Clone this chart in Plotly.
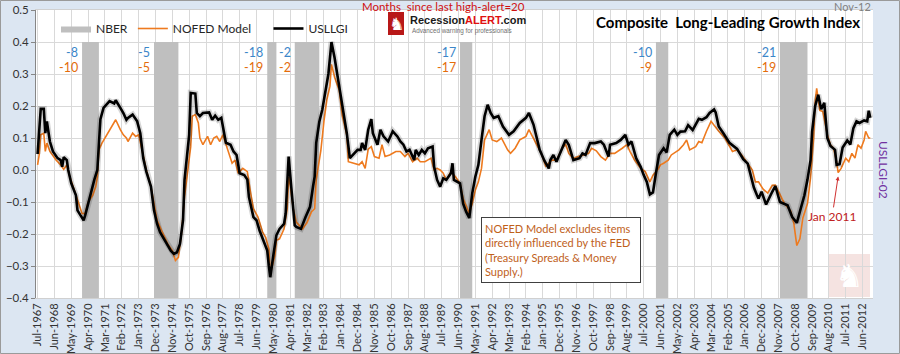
import pandas as pd
import plotly.graph_objects as go

# ---------------- data ----------------
# x positions are months counted from Jul-1967 (month 0) on the monthly category axis
START = "1967-07-01"

usllgi_m = [0, 1, 2, 4, 5, 6, 8, 10, 13, 15, 16, 17, 19, 20, 22, 25, 26, 28, 30, 31, 33, 35, 37, 39,
            40, 41, 43, 45, 47, 50, 51, 54, 56, 58, 59, 62, 65, 67, 69, 71, 74, 76, 78, 80, 82, 85, 87,
            89, 91, 93, 95, 96, 98, 99, 100, 103, 104, 106, 108, 112, 114, 116, 118, 120, 123, 126,
            128, 130, 132, 135, 137, 138, 141, 143, 145, 148, 150, 151, 152, 154, 156, 158, 161, 162,
            163, 164, 166, 168, 169, 172, 175, 178, 180, 181, 182, 184, 186, 188, 189, 190, 191, 192,
            194, 197, 199, 202, 204, 206, 209, 211, 212, 214, 216, 218, 219, 222, 224, 226, 229, 232,
            235, 237, 239, 241, 243, 246, 247, 249, 251, 253, 255, 258, 259, 261, 263, 265, 267, 270,
            271, 272, 274, 276, 278, 280, 282, 284, 286, 288, 290, 292, 294, 296, 298, 301, 304, 308,
            311, 315, 319, 321, 324, 326, 328, 331, 333, 334, 335, 337, 339, 343, 345, 347, 348, 350,
            354, 356, 358, 361, 364, 368, 370, 373, 374, 378, 381, 384, 386, 388, 391, 394, 396, 398,
            400, 402, 404, 406, 409, 411, 413, 416, 418, 420, 423, 425, 428, 430, 432, 434, 437, 439,
            442, 443, 445, 448, 452, 457, 461, 464, 466, 468, 470, 471, 473, 476, 480, 482, 485, 490,
            493, 496, 498, 501, 503, 505, 506, 508, 510, 512, 514, 516, 518, 521, 522, 524, 526, 529,
            531, 533, 535, 537, 540, 542, 543, 544]
usllgi_v = [0.050, 0.126, 0.191, 0.191, 0.115, 0.152, 0.089, 0.058, 0.037, 0.031, 0.010, 0.040, 0.031,
            0.000, -0.042, -0.079, -0.126, -0.142, -0.157, -0.142, -0.105, -0.063, -0.031, 0.000,
            0.094, 0.159, 0.194, 0.204, 0.215, 0.208, 0.218, 0.194, 0.178, 0.157, 0.163, 0.173, 0.152,
            0.115, 0.037, -0.005, -0.052, -0.126, -0.168, -0.194, -0.210, -0.236, -0.252, -0.262,
            -0.257, -0.231, -0.157, -0.031, 0.073, 0.110, 0.241, 0.239, 0.178, 0.168, 0.178, 0.180,
            0.157, 0.170, 0.157, 0.163, 0.085, 0.079, 0.058, 0.047, -0.010, -0.016, -0.030, -0.084,
            -0.147, -0.157, -0.189, -0.231, -0.252, -0.299, -0.335, -0.267, -0.204, -0.184, -0.168,
            -0.136, -0.052, 0.042, -0.068, -0.173, -0.178, -0.184, -0.147, -0.115, -0.050, -0.021,
            0.085, 0.150, 0.190, 0.241, 0.280, 0.300, 0.350, 0.400, 0.351, 0.267, 0.204, 0.115, 0.037,
            0.047, 0.063, 0.063, 0.084, 0.063, 0.126, 0.159, 0.115, 0.079, 0.126, 0.105, 0.089, 0.121,
            0.105, 0.089, 0.079, 0.058, 0.063, 0.031, 0.063, 0.047, 0.063, 0.052, 0.068, 0.073, 0.010,
            -0.031, -0.052, -0.026, -0.031, -0.010, 0.021, -0.031, -0.037, -0.042, -0.105, -0.131,
            -0.150, -0.073, -0.021, 0.016, 0.094, 0.168, 0.204, 0.178, 0.163, 0.168, 0.136, 0.110,
            0.121, 0.147, 0.163, 0.178, 0.142, 0.100, 0.063, 0.030, 0.010, 0.005, 0.031, 0.047, 0.026,
            0.068, 0.094, 0.079, 0.063, 0.031, 0.037, 0.052, 0.047, 0.084, 0.084, 0.089, 0.079, 0.042,
            0.079, 0.084, 0.094, 0.110, 0.079, 0.089, 0.037, 0.010, -0.016, -0.037, -0.076, -0.070,
            -0.010, 0.047, 0.068, 0.055, 0.110, 0.126, 0.110, 0.120, 0.121, 0.140, 0.125, 0.145, 0.160,
            0.157, 0.165, 0.178, 0.189, 0.180, 0.136, 0.115, 0.085, 0.066, 0.034, 0.020, -0.021,
            -0.055, -0.079, -0.089, -0.068, -0.108, -0.068, -0.050, -0.100, -0.110, -0.147, -0.165,
            -0.130, -0.079, -0.030, 0.031, 0.120, 0.200, 0.235, 0.190, 0.210, 0.100, 0.075, 0.063,
            0.016, 0.018, 0.070, 0.092, 0.080, 0.131, 0.152, 0.147, 0.155, 0.152, 0.185, 0.163]

nofed_m = [0, 1, 2, 4, 5, 6, 8, 12, 15, 17, 19, 21, 24, 27, 29, 31, 33, 36, 38, 39, 40, 42, 44, 47, 51,
           54, 56, 58, 59, 62, 64, 66, 68, 71, 74, 76, 78, 81, 85, 88, 90, 92, 94, 96, 99, 100, 101,
           103, 105, 106, 108, 111, 113, 115, 117, 119, 121, 124, 127, 129, 131, 134, 137, 139, 141,
           144, 147, 149, 151, 152, 155, 156, 158, 161, 163, 164, 165, 167, 169, 173, 176, 179, 181,
           182, 185, 187, 189, 191, 192, 194, 197, 199, 202, 203, 206, 210, 212, 214, 216, 218, 220,
           223, 225, 227, 230, 234, 237, 240, 242, 245, 248, 250, 253, 257, 259, 261, 263, 265, 267,
           270, 273, 276, 278, 280, 282, 284, 286, 288, 290, 292, 295, 297, 300, 303, 307, 309, 312,
           315, 319, 321, 324, 327, 329, 332, 336, 339, 343, 345, 347, 350, 353, 357, 360, 362, 365,
           368, 371, 374, 377, 382, 385, 387, 390, 394, 397, 400, 402, 405, 407, 409, 412, 414, 417,
           419, 422, 424, 426, 430, 432, 434, 437, 440, 445, 449, 454, 457, 460, 463, 467, 469, 471,
           474, 477, 480, 482, 485, 488, 492, 494, 496, 498, 500, 503, 505, 507, 508, 509, 511, 513,
           516, 518, 520, 522, 523, 525, 528, 530, 532, 534, 536, 538, 540, 541, 543, 544]
nofed_v = [0.016, 0.047, 0.110, 0.115, 0.058, 0.084, 0.058, 0.031, 0.016, 0.002, 0.016, -0.021, -0.063,
           -0.110, -0.136, -0.136, -0.100, -0.079, -0.052, -0.021, 0.063, 0.084, 0.100, 0.126, 0.157,
           0.126, 0.110, 0.100, 0.089, 0.115, 0.105, 0.110, 0.063, 0.000, -0.052, -0.105, -0.157,
           -0.189, -0.231, -0.252, -0.283, -0.273, -0.199, -0.084, 0.031, 0.073, 0.168, 0.173, 0.147,
           0.100, 0.079, 0.105, 0.079, 0.100, 0.105, 0.089, 0.110, 0.063, 0.021, 0.031, -0.010, 0.005,
           -0.005, -0.068, -0.121, -0.147, -0.194, -0.210, -0.246, -0.325, -0.267, -0.220, -0.215,
           -0.184, -0.121, -0.021, -0.047, -0.121, -0.163, -0.184, -0.165, -0.130, -0.121, -0.030,
           0.060, 0.152, 0.220, 0.262, 0.330, 0.290, 0.250, 0.170, 0.108, 0.026, 0.021, 0.016, 0.026,
           0.005, 0.065, 0.073, 0.042, 0.037, 0.079, 0.042, 0.047, 0.058, 0.058, 0.042, 0.052, 0.026,
           0.037, 0.026, 0.026, 0.037, 0.000, 0.005, 0.000, -0.010, -0.031, -0.005, -0.021, -0.042,
           -0.089, -0.115, -0.136, -0.105, -0.063, -0.037, 0.005, 0.094, 0.126, 0.094, 0.089, 0.100,
           0.063, 0.052, 0.068, 0.094, 0.105, 0.126, 0.100, 0.073, 0.052, 0.012, 0.031, 0.031, 0.070,
           0.080, 0.052, 0.036, 0.042, 0.047, 0.052, 0.068, 0.060, 0.042, 0.031, 0.052, 0.052, 0.068,
           0.079, 0.058, 0.031, 0.005, -0.005, -0.037, -0.016, 0.000, 0.016, 0.021, 0.031, 0.047,
           0.058, 0.063, 0.079, 0.094, 0.063, 0.073, 0.089, 0.085, 0.121, 0.152, 0.121, 0.100, 0.058,
           0.063, 0.047, 0.026, 0.000, -0.037, -0.037, -0.060, -0.072, -0.048, -0.047, -0.076,
           -0.105, -0.128, -0.165, -0.236, -0.215, -0.150, -0.105, -0.025, 0.100, 0.215, 0.255,
           0.186, 0.183, 0.110, 0.079, 0.068, 0.026, -0.008, 0.005, 0.037, 0.026, 0.052, 0.037,
           0.079, 0.068, 0.094, 0.121, 0.100, 0.100]

nber_start = ["1969-12-01", "1973-11-01", "1980-01-01", "1981-07-01", "1990-07-01", "2001-03-01", "2007-12-01"]
nber_end = ["1970-11-01", "1975-03-01", "1980-07-01", "1982-11-01", "1991-03-01", "2001-11-01", "2009-06-01"]
lead_usllgi = [-8, -5, -18, -2, -17, -10, -21]
lead_nofed = [-10, -5, -19, -2, -17, -9, -19]

# ---------------- helpers ----------------
base = pd.Timestamp(START)
def to_dates(months):
    return [(base + pd.DateOffset(months=int(m))).strftime("%Y-%m-%d") for m in months]

usllgi_x = to_dates(usllgi_m)
nofed_x = to_dates(nofed_m)

BAR_TOP, BAR_BOT = 0.4, -0.4
nb_x, nb_y = [], []
for s, e in zip(nber_start, nber_end):
    nb_x += [s, s, e, e, s, None]
    nb_y += [BAR_BOT, BAR_TOP, BAR_TOP, BAR_BOT, BAR_BOT, None]

FONT = "Lato, 'Liberation Sans', sans-serif"
NARROW = "'Liberation Sans Narrow', 'Liberation Sans', sans-serif"
XR = ["1967-05-30", "2012-12-25"]
W, H = 900, 354
ML, MR, MT, MB = 36, 27, 10, 56
PW, PH = W - ML - MR, H - MT - MB

def px(xp):
    return (xp - ML) / PW

def py(yp):
    return (H - MB - yp) / PH

fig = go.Figure()
fig.add_trace(go.Scatter(x=nb_x, y=nb_y, mode="lines", fill="toself", fillcolor="#bfbfbf",
                         line=dict(width=0, color="#bfbfbf"), name="NBER", hoverinfo="skip"))
fig.add_trace(go.Scatter(x=nofed_x, y=nofed_v, mode="lines", name="NOFED Model\u00a0\u00a0\u00a0\u00a0",
                         line=dict(color="#ee7a1e", width=1.6)))
fig.add_trace(go.Scatter(x=usllgi_x, y=usllgi_v, mode="lines", showlegend=False, hoverinfo="skip",
                         line=dict(color="rgba(0,0,0,0.16)", width=6)))
fig.add_trace(go.Scatter(x=usllgi_x, y=usllgi_v, mode="lines", name="USLLGI",
                         line=dict(color="#000000", width=2.6)))

ann = []
for s, a, b in zip(nber_start, lead_usllgi, lead_nofed):
    ann.append(dict(x=s, y=0.368, xref="x", yref="y", text=str(a), showarrow=False, xanchor="right",
                    yanchor="middle", xshift=-2, font=dict(size=12.5, color="#3b86c9")))
    ann.append(dict(x=s, y=0.321, xref="x", yref="y", text=str(b), showarrow=False, xanchor="right",
                    yanchor="middle", xshift=-2, font=dict(size=12.5, color="#e46c0a")))

def note(xp, yp, text, size, color, xa="center", family=None, **kw):
    f = dict(size=size, color=color)
    if family:
        f["family"] = family
    return dict(x=px(xp), y=py(yp), xref="paper", yref="paper", text=text, showarrow=False,
                xanchor=xa, yanchor="middle", font=f, **kw)

ann += [
    note(443, 7, "Months  since last high-alert=20", 11.5, "#d01010"),
    note(852, 7, "Nov-12", 11, "#808080"),
    note(728, 22, "<b>Composite  Long-Leading Growth Index</b>", 15, "#000000"),
    note(408, 20, "<b>Recession<span style='color:#e01010'>ALERT</span>.com</b>", 11, "#1a1a1a",
         xa="left", family=NARROW),
    note(410, 31, "Advanced warning for professionals", 6.3, "#707070", xa="left", family=NARROW),
    note(396, 23.5, "\u265e", 17, "white", family="DejaVu Sans"),
    note(849, 276, "\u265e", 32, "white", family="DejaVu Sans"),
    note(884, 170, "USLLGI-02", 12, "#7030a0", textangle=90),
    dict(x=px(481), y=py(217), xref="paper", yref="paper", xanchor="left", yanchor="top",
         text="NOFED Model excludes items<br>directly influenced by the FED<br>(Treasury Spreads &amp; Money<br>Supply.)",
         showarrow=False, align="left", bordercolor="#404040", borderwidth=1, bgcolor="white",
         borderpad=3, width=152, height=58, font=dict(size=11, color="#c0601a")),
    dict(x=to_dates([523])[0], y=-0.02, xref="x", yref="y", text="Jan 2011", showarrow=True,
         ax=-6, ay=40, arrowhead=2, arrowsize=0.8, arrowwidth=1, arrowcolor="#d03030",
         font=dict(size=12, color="#c02020")),
]

shapes = [
    dict(type="rect", xref="paper", yref="paper", x0=px(388), x1=px(404), y0=py(35), y1=py(12),
         fillcolor="#b81818", line=dict(width=0), layer="above"),
    dict(type="rect", xref="paper", yref="paper", x0=px(828), x1=px(870), y0=py(297), y1=py(254),
         fillcolor="#f3dcda", opacity=0.8, line=dict(width=0), layer="below"),
    dict(type="rect", xref="paper", yref="paper", x0=px(0.5), x1=px(W - 0.5), y0=py(H - 0.5), y1=py(0.5),
         line=dict(color="#9a9a9a", width=1), fillcolor="rgba(0,0,0,0)"),
]

fig.update_layout(
    width=W, height=H,
    margin=dict(l=ML, r=MR, t=MT, b=MB, autoexpand=False),
    paper_bgcolor="#dce6f2", plot_bgcolor="#ffffff",
    font=dict(family=FONT, size=11, color="#333333"),
    showlegend=True,
    legend=dict(orientation="h", x=px(56), y=py(14), xanchor="left", yanchor="top",
                bgcolor="rgba(0,0,0,0)", font=dict(size=12, color="#262626"), itemwidth=30),
    xaxis=dict(type="date", range=XR, tick0=START, dtick="M11", tickformat="%b-%Y", tickangle=-90,
               showgrid=True, gridcolor="#d9d9d9", gridwidth=1, zeroline=False, ticks="",
               showline=True, mirror=True, linecolor="#d0d0d0", automargin=False,
               tickfont=dict(size=11, color="#333333")),
    yaxis=dict(range=[-0.4, 0.5], dtick=0.1, tickformat=".1f", showgrid=True, gridcolor="#d9d9d9",
               zeroline=False, ticks="outside", ticklen=4, tickcolor="#868686", showline=True,
               linecolor="#868686", automargin=False, tickfont=dict(size=11.5, color="#333333")),
    xaxis2=dict(type="date", overlaying="x", anchor="free", position=py(170), side="bottom", range=XR,
                tick0=START, dtick="M11", ticks="outside", ticklen=4, tickcolor="#e00000", tickwidth=1,
                showticklabels=False, showgrid=False, zeroline=False, showline=True, linecolor="#e00000",
                linewidth=2, layer="below traces", automargin=False),
    yaxis2=dict(overlaying="y", side="right", range=[0, 5.608], dtick=1, ticks="outside", ticklen=4,
                tickcolor="#868686", showticklabels=False, showgrid=False, zeroline=False, showline=True,
                linecolor="#a6a6a6", automargin=False),
    annotations=ann,
    shapes=shapes,
)

fig.write_html("out.html")
